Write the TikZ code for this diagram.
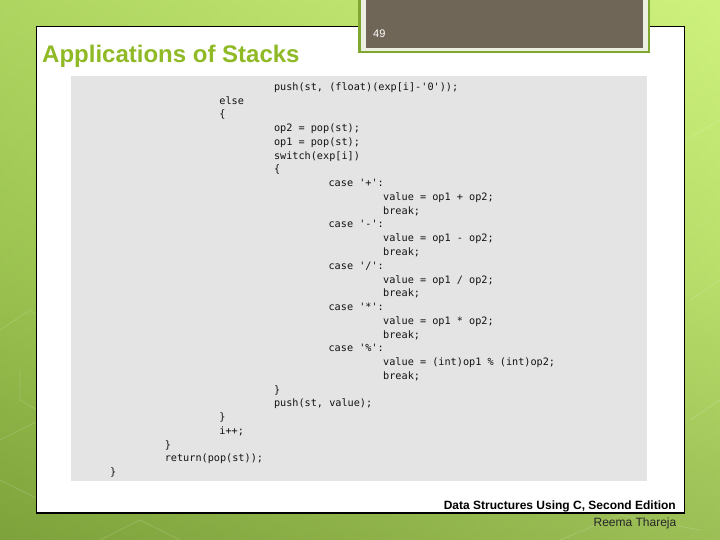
\documentclass[tikz,border=0pt]{standalone}
\usepackage{fontspec}
\setmainfont{Liberation Sans}
\setmonofont{DejaVu Sans Mono}
\definecolor{bgtop}{RGB}{206,242,124}
\definecolor{bgmid}{RGB}{176,214,98}
\definecolor{bgbot}{RGB}{130,164,66}
\definecolor{bgleft}{RGB}{118,160,48}
\definecolor{bgright}{RGB}{205,240,125}
\definecolor{titlegreen}{RGB}{143,186,38}
\definecolor{numbrown}{RGB}{111,102,88}
\definecolor{numgreen}{RGB}{128,168,48}
\definecolor{numlight}{RGB}{236,240,226}
\definecolor{codegray}{RGB}{228,228,228}
\definecolor{codeink}{RGB}{18,18,18}
\newcommand\codeln[3]{\node[codetxt] (c#1) at ({110+54.6*#2},{90.5+13.75*(#1-1)}) {#3};}
\begin{document}
\begin{tikzpicture}[x=1pt,y=-1pt,
  codetxt/.style={inner sep=0pt, anchor=base west, font=\ttfamily\fontsize{10.2}{12}\selectfont, text=codeink},
  hexline/.style={draw=white, opacity=0.15, line width=0.8pt}]
\useasboundingbox (0,0) rectangle (720,540);
% background
\shade[top color=bgtop, bottom color=bgbot, middle color=bgmid] (0,0) rectangle (720,540);
\shade[left color=bgleft, right color=bgright, opacity=0.35] (0,0) rectangle (720,540);
% faint hexagon pattern
\draw[hexline] (0,330) -- (30,310) -- (60,330);
\draw[hexline] (0,440) -- (40,420) -- (80,440) -- (80,480) -- (40,500) -- (0,480);
\draw[hexline] (20,370) -- (20,400) -- (45,415);
\draw[hexline] (690,300) -- (720,280);
\draw[hexline] (690,420) -- (720,400);
\draw[hexline] (686,140) -- (720,120);
\draw[hexline] (100,540) -- (140,520) -- (180,540);
\draw[hexline] (560,540) -- (620,515) -- (700,530);
% slide panel
\draw[fill=white, line width=1.2pt] (36.5,26.5) rectangle (684.5,513);
\fill[codegray] (71,76) rectangle (647,481);
% slide number tab
\fill[numgreen] (358,-2) rectangle (650,53.5);
\fill[numlight] (361,-2) rectangle (647.5,51);
\fill[numbrown] (366,-2) rectangle (643,48);
\node[anchor=base west, inner sep=0pt, text=white, font=\fontsize{11}{13}\selectfont] (num) at (373,38) {49};
% title
\node[anchor=base west, inner sep=0pt, text=titlegreen, font=\bfseries\fontsize{24}{27}\selectfont] (title) at (42,62.5) {Applications of Stacks};
% code
\codeln{1}{3}{push(st, (float)(exp[i]-'0'));}
\codeln{2}{2}{else}
\codeln{3}{2}{\{}
\codeln{4}{3}{op2 = pop(st);}
\codeln{5}{3}{op1 = pop(st);}
\codeln{6}{3}{switch(exp[i])}
\codeln{7}{3}{\{}
\codeln{8}{4}{case '+':}
\codeln{9}{5}{value = op1 + op2;}
\codeln{10}{5}{break;}
\codeln{11}{4}{case '-':}
\codeln{12}{5}{value = op1 - op2;}
\codeln{13}{5}{break;}
\codeln{14}{4}{case '/':}
\codeln{15}{5}{value = op1 / op2;}
\codeln{16}{5}{break;}
\codeln{17}{4}{case '*':}
\codeln{18}{5}{value = op1 * op2;}
\codeln{19}{5}{break;}
\codeln{20}{4}{case '\%':}
\codeln{21}{5}{value = (int)op1 \% (int)op2;}
\codeln{22}{5}{break;}
\codeln{23}{3}{\}}
\codeln{24}{3}{push(st, value);}
\codeln{25}{2}{\}}
\codeln{26}{2}{i++;}
\codeln{27}{1}{\}}
\codeln{28}{1}{return(pop(st));}
\codeln{29}{0}{\}}
% footer
\node[anchor=base east, inner sep=0pt, font=\bfseries\fontsize{12}{14}\selectfont] (book) at (676,509.5) {Data Structures Using C, Second Edition};
\node[anchor=base east, inner sep=0pt, text=black!85, font=\fontsize{12}{14}\selectfont] (author) at (676.5,526) {Reema Thareja};
\end{tikzpicture}
\end{document}
